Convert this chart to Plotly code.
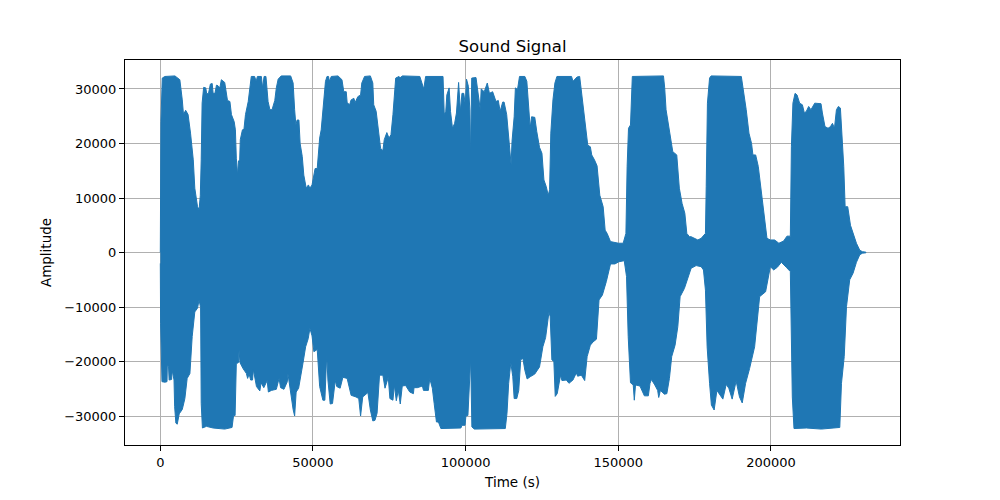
import plotly.graph_objects as go

title_text = "Sound Signal"
x_label = "Time (s)"
y_label = "Amplitude"
x_ticks = [0, 50000, 100000, 150000, 200000]
y_ticks = [-30000, -20000, -10000, 0, 10000, 20000, 30000]

# Upper edge of the waveform: (time, amplitude)
upper_time = [0,0,200,650,1500,4800,6400,7200,7600,8300,9100,9900,10800,11300,12200,12700,13100,13400,13700,14200,14900,15200,15800,16400,17000,17300,17900,18400,18900,19500,20000,21100,21500,22000,22800,23300,24200,24600,24900,25300,25600,26000,26200,26900,27400,27900,28800,29300,29800,30900,31400,31800,33100,33500,34000,34600,35300,35900,36600,37500,38000,38600,39600,42700,43500,44000,44400,44800,45400,45800,46500,47000,47800,48500,49000,49700,50300,50700,51400,52200,52700,53500,54100,54600,55100,55400,56000,58200,59500,60100,60900,61200,62000,62500,63400,63800,64700,65600,66000,66900,68800,69600,69900,70700,71600,72150,72900,73350,74200,74900,75550,76200,77100,78200,78400,79300,85000,85600,86300,86900,92600,93000,93500,93850,94600,95050,95700,96400,97000,97700,98300,98800,99400,99900,100300,100900,101400,101600,102000,103400,104150,104800,105100,106100,107100,107800,108850,109950,110700,111300,112150,112600,113450,114150,114900,115200,115900,116300,117000,117650,119400,120050,120600,121150,121600,122650,123300,124200,125000,125650,126400,127050,127500,127900,128600,129250,129900,134700,135150,135800,136500,137350,138000,139000,140000,140850,141300,142200,143050,143950,145050,145700,146350,147450,149200,150100,151600,152500,152900,153350,154000,154600,164800,165200,165650,166500,167400,167850,169150,170000,170900,171800,172450,173300,173850,174950,176050,177150,178550,178800,179200,179900,180400,190300,191000,191900,192800,193650,194100,195000,195850,196850,197600,198700,199800,201200,202600,204150,205250,206350,206700,207200,207900,208550,209400,210300,210950,211600,212350,213100,214350,216400,216850,217700,218700,219500,220150,220800,221450,222100,222750,223400,223850,224300,225150,226050,226900,228000,229100,230000,231100]
upper_amp = [0,1000,24000,32000,32300,32400,31700,28000,25300,26100,25300,21900,17000,11800,8400,7900,10400,17000,27400,30300,30200,29100,29200,30900,31000,29200,29200,30700,30600,30200,31700,31200,29500,27900,27700,25300,24000,22500,17300,14200,16800,17000,20700,22500,22600,25300,27700,30200,32300,32300,31400,32300,32300,30200,32300,32300,27700,26200,26200,27900,30200,31800,32400,32400,31100,26200,23400,24300,24300,20000,17600,14200,11800,12400,11800,12400,13900,15400,15400,21000,22500,28000,31400,32300,32300,31400,32300,32400,31700,29500,29500,27500,27100,28000,28300,27500,28600,28900,31100,32300,32400,31100,27100,25900,21300,19100,18700,20700,22000,21000,21600,25300,32000,32300,32000,32400,32300,31100,30000,32300,32300,25300,25900,28900,30200,25900,22800,23700,25600,31200,25900,29200,29200,27100,31800,30500,26200,17300,32000,32100,28300,26200,30000,29500,31100,29200,29500,27700,27900,25900,27600,27600,25300,20700,16100,20400,24900,30200,29900,32300,32300,31400,25900,22800,24900,24800,22200,19300,18200,13300,12100,10500,11500,21900,28000,31100,32300,32300,31400,31700,32200,32300,29200,25600,19700,19400,17900,17000,15900,10500,8400,4100,3500,2000,1800,1700,1700,3500,15800,22800,23400,32300,32400,30200,26200,23100,20000,18500,17900,11800,9000,7200,3500,2900,2900,2600,2300,2600,3500,12100,27400,32000,32400,32300,29900,26200,21900,20000,17900,17900,15800,10900,7200,2600,2300,2300,1700,2100,3000,3000,19400,27400,29200,28900,27400,27100,25600,25900,26800,26200,27400,27300,25600,23100,22800,23100,23700,22800,26200,26800,26500,20700,15800,8400,8400,5000,3500,1700,400,150,60]

# Lower edge of the waveform: (time, amplitude)
lower_time = [0,100,550,1500,2200,2300,2700,2900,3700,3900,4500,4700,5100,5550,6200,7200,8050,8800,9700,10450,11300,12200,12700,13200,13400,13800,15100,17300,21100,23500,24000,24500,24900,25600,25800,26100,27100,28200,28600,29100,29600,30200,30500,31500,32600,33000,33900,35000,35400,36400,38000,38900,39400,40500,41600,41800,42900,43500,44000,44500,45300,45950,46700,47600,48450,49000,49700,50300,51400,52200,53250,53900,54500,54900,55650,56400,57300,57800,58900,59800,61200,62500,64100,65000,65600,66300,68000,68800,69600,70300,71000,71800,72900,73600,74670,75200,76200,76650,77300,77950,78600,79250,80350,81700,82900,83100,84200,85850,86200,87800,88250,89100,89700,90450,91100,91900,98450,98800,99800,100100,100750,101650,102050,102850,113000,113550,114100,114800,115450,115900,116750,117400,118050,118750,119400,120150,121150,122650,124200,125300,126200,127300,127700,128250,128900,129350,130000,131100,131550,133000,133850,135150,136250,136700,137900,139000,139800,140850,141750,142850,143700,144800,146100,147450,148900,150200,151950,152700,153250,154000,154900,155250,155650,157100,157450,158550,159850,160400,160850,161950,162900,163250,163800,165100,165900,166750,167500,168600,169500,170250,171650,172750,173850,175500,177150,177900,178550,179100,179900,180500,181400,182300,184250,185350,186200,187300,188600,189700,190600,191700,193000,194650,196300,198250,199800,200900,202100,203400,205000,206350,206700,207000,207550,211600,216500,222550,223100,224000,224750,225800,226900,228000,229100,230000,231100]
lower_amp = [-2000,-13000,-23700,-23800,-23700,-20700,-21000,-23400,-23300,-21600,-23400,-28300,-31300,-31500,-29600,-28800,-26800,-23100,-22200,-15400,-10900,-10200,-8700,-10100,-27700,-32200,-31900,-32200,-32400,-32100,-29900,-29900,-20400,-20200,-17900,-20200,-21300,-22200,-23100,-22300,-23400,-23400,-21500,-24600,-25400,-23900,-24800,-23500,-25600,-25300,-25100,-23100,-24800,-25100,-23700,-22200,-26500,-28800,-30000,-25600,-24900,-22500,-20400,-17300,-15800,-13900,-15300,-18200,-17800,-24600,-27100,-27100,-18800,-23400,-27800,-27700,-23500,-24600,-24900,-22900,-23100,-26200,-26500,-26800,-30000,-26500,-25700,-28900,-30900,-30800,-29500,-22500,-22500,-24900,-22900,-26800,-27100,-24300,-27200,-25300,-27800,-24500,-24400,-25600,-25900,-24800,-24800,-24500,-25300,-25300,-23100,-24900,-27700,-31100,-31100,-32300,-32200,-31700,-31700,-30000,-29900,-19400,-32000,-32400,-32300,-29500,-24000,-20200,-22800,-26800,-26800,-25300,-19700,-19400,-21600,-23200,-22800,-22300,-21000,-17300,-15600,-10900,-11800,-19700,-20000,-26400,-25900,-22500,-23500,-23400,-24000,-23400,-22100,-22700,-22500,-23500,-19100,-17000,-16400,-15900,-8700,-7800,-5300,-2100,-2100,-1700,-1500,-4400,-15400,-23900,-24300,-27100,-24300,-24500,-24900,-26300,-26300,-24000,-23300,-24300,-25300,-26600,-25300,-26000,-25900,-23100,-19100,-17000,-13600,-8100,-6600,-4700,-2900,-2400,-2600,-3200,-6900,-17300,-24000,-28000,-28900,-25300,-26900,-24200,-24900,-26900,-23600,-26500,-27600,-24000,-21300,-17300,-8100,-7200,-2600,-3200,-2700,-1800,-2700,-3500,-13600,-26500,-32300,-32200,-32400,-32100,-24000,-19100,-9900,-5000,-3800,-1800,-400,-120,-60]

fig = go.Figure(go.Scatter(
    x=upper_time + lower_time[::-1],
    y=upper_amp + lower_amp[::-1],
    mode="lines",
    fill="toself",
    fillcolor="#1f77b4",
    line=dict(color="#1f77b4", width=1),
    hoverinfo="skip",
))

axis_style = dict(
    showline=True, mirror=True, linecolor="black", linewidth=1,
    ticks="outside", ticklen=5, tickwidth=1, tickcolor="black",
    showgrid=True, gridcolor="#b0b0b0", gridwidth=1, zeroline=False,
    tickformat="d",
)
fig.update_xaxes(range=[-11560, 242270], tickvals=x_ticks,
                 title=dict(text=x_label, standoff=8, font=dict(size=13.5)), **axis_style)
fig.update_yaxes(range=[-35320, 35320], tickvals=y_ticks,
                 title=dict(text=y_label, standoff=9, font=dict(size=13.5)), **axis_style)
fig.update_layout(
    width=992, height=492,
    margin=dict(l=117, r=100, t=52, b=55, autoexpand=False),
    paper_bgcolor="white", plot_bgcolor="white",
    font=dict(family="DejaVu Sans", size=13, color="black"),
    title=dict(text=title_text, x=0.5086, xanchor="center", y=0.922, yanchor="middle",
               font=dict(size=16.5, color="black")),
    showlegend=False,
)
fig.write_html("out.html", config=dict(displayModeBar=False))
